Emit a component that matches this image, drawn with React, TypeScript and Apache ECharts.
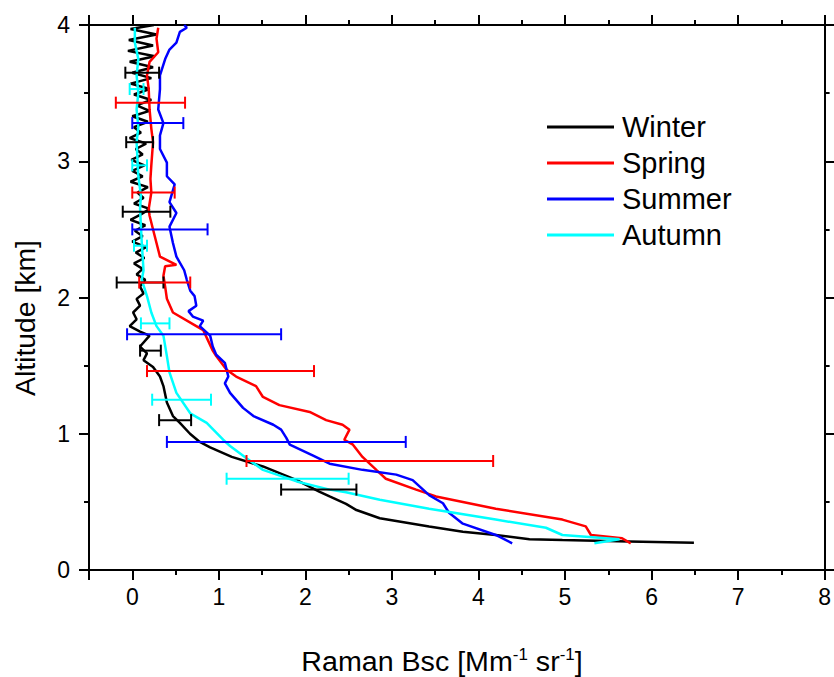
import React, { useEffect, useRef } from 'react';
import * as echarts from 'echarts';

const seasons = ['Winter', 'Spring', 'Summer', 'Autumn'];
const seasonColors = ['#000000', '#ff0000', '#0000ff', '#00ffff'];

const xTickValues = [0, 1, 2, 3, 4, 5, 6, 7, 8];
const yTickValues = [0, 1, 2, 3, 4];

// [backscatter, altitude]
const winterProfile = [
  [6.49, 0.2], [5.74, 0.21], [4.97, 0.22], [4.59, 0.226], [4.2, 0.257], [3.82, 0.28], [3.43, 0.32],
  [2.86, 0.38], [2.59, 0.44], [2.47, 0.485], [2.28, 0.54], [2.16, 0.576], [1.9, 0.66], [1.51, 0.76],
  [1.15, 0.83], [0.9, 0.9], [0.78, 0.94], [0.667, 1.0], [0.55, 1.08], [0.47, 1.13], [0.4, 1.23],
  [0.36, 1.35], [0.32, 1.42], [0.24, 1.49], [0.13, 1.54], [0.17, 1.59], [0.09, 1.64], [0.2, 1.72],
  [0.09, 1.75], [-0.03, 1.79], [0.05, 1.84], [0.01, 1.89], [0.09, 1.94], [0.05, 1.99], [0.13, 2.03],
  [0.09, 2.08], [0.15, 2.13], [0.05, 2.17], [0.12, 2.21], [0.02, 2.25], [0.14, 2.29], [0.04, 2.33],
  [0.16, 2.37], [0.0, 2.41], [0.12, 2.45], [0.03, 2.49], [0.15, 2.53], [-0.02, 2.57], [0.1, 2.61],
  [0.2, 2.65], [0.02, 2.69], [0.13, 2.73], [0.06, 2.77], [0.18, 2.81], [-0.02, 2.85], [0.12, 2.89],
  [0.0, 2.93], [0.14, 2.97], [-0.01, 3.01], [0.12, 3.05], [0.04, 3.09], [0.16, 3.13], [-0.03, 3.17],
  [0.1, 3.21], [0.02, 3.25], [0.18, 3.29], [0.0, 3.33], [0.2, 3.37], [0.05, 3.41], [0.22, 3.45],
  [0.02, 3.49], [0.2, 3.53], [-0.02, 3.57], [0.22, 3.61], [0.0, 3.65], [0.24, 3.69], [-0.03, 3.73],
  [0.26, 3.77], [-0.05, 3.81], [0.24, 3.85], [-0.04, 3.89], [0.28, 3.93], [-0.02, 3.97], [0.25, 4.0],
];

const springProfile = [
  [5.76, 0.196], [5.66, 0.233], [5.3, 0.257], [5.24, 0.32], [4.97, 0.37], [4.2, 0.45], [3.51, 0.54],
  [3.28, 0.59], [2.93, 0.67], [2.82, 0.735], [2.66, 0.83], [2.55, 0.92], [2.45, 0.956], [2.51, 1.03],
  [2.43, 1.066], [2.24, 1.1], [2.05, 1.16], [1.7, 1.21], [1.51, 1.27], [1.43, 1.35], [1.2, 1.42],
  [1.09, 1.47], [0.97, 1.57], [0.93, 1.61], [0.82, 1.76], [0.74, 1.79], [0.47, 1.89], [0.4, 1.99],
  [0.38, 2.08], [0.36, 2.16], [0.38, 2.23], [0.51, 2.24], [0.32, 2.3], [0.26, 2.45], [0.2, 2.6],
  [0.19, 2.65], [0.22, 2.77], [0.21, 2.87], [0.22, 2.97], [0.24, 3.14], [0.22, 3.24], [0.2, 3.38],
  [0.19, 3.53], [0.17, 3.63], [0.2, 3.73], [0.3, 3.8], [0.28, 3.9], [0.3, 3.98],
];

const summerProfile = [
  [4.39, 0.196], [4.2, 0.257], [3.82, 0.34], [3.66, 0.42], [3.59, 0.49], [3.43, 0.55], [3.24, 0.66],
  [3.05, 0.7], [2.66, 0.735], [2.28, 0.78], [2.09, 0.84], [1.82, 0.92], [1.78, 0.97], [1.72, 1.03],
  [1.63, 1.066], [1.4, 1.13], [1.28, 1.19], [1.13, 1.3], [1.07, 1.37], [1.11, 1.42], [1.07, 1.52],
  [0.97, 1.58], [0.93, 1.64], [0.9, 1.72], [0.78, 1.79], [0.82, 1.83], [0.7, 1.86], [0.65, 1.9],
  [0.74, 1.94], [0.72, 2.01], [0.67, 2.05], [0.63, 2.13], [0.6, 2.2], [0.51, 2.3], [0.47, 2.4],
  [0.43, 2.52], [0.51, 2.62], [0.43, 2.7], [0.49, 2.83], [0.4, 2.89], [0.4, 2.99], [0.32, 3.09],
  [0.32, 3.19], [0.36, 3.28], [0.3, 3.38], [0.32, 3.53], [0.32, 3.63], [0.38, 3.75], [0.43, 3.82],
  [0.51, 3.87], [0.55, 3.95], [0.63, 3.98], [0.6, 4.0],
];

const autumnProfile = [
  [5.34, 0.196], [5.63, 0.226], [4.97, 0.257], [4.78, 0.31], [4.2, 0.37], [3.43, 0.45], [2.86, 0.515],
  [2.47, 0.57], [2.28, 0.59], [1.9, 0.65], [1.51, 0.735], [1.32, 0.82], [1.13, 0.91], [1.05, 0.956],
  [0.86, 1.08], [0.67, 1.15], [0.51, 1.3], [0.43, 1.45], [0.4, 1.57], [0.36, 1.72], [0.28, 1.79],
  [0.22, 1.89], [0.17, 2.01], [0.11, 2.13], [0.13, 2.2], [0.11, 2.4], [0.09, 2.65], [0.1, 2.75],
  [0.07, 2.89], [0.05, 3.14], [0.07, 3.25], [0.05, 3.38], [0.07, 3.5], [0.05, 3.63], [0.07, 3.75],
  [0.03, 3.87], [0.03, 3.98],
];

// [low, high, altitude]
const winterErrors = [
  [-0.08, 0.31, 3.65], [-0.07, 0.24, 3.14], [-0.11, 0.44, 2.63], [-0.18, 0.36, 2.11],
  [0.09, 0.33, 1.61], [0.31, 0.68, 1.1], [1.72, 2.59, 0.59],
];
const springErrors = [
  [-0.19, 0.61, 3.43], [0.0, 0.49, 2.77], [0.08, 0.67, 2.11], [0.17, 2.1, 1.46], [1.32, 4.17, 0.8],
];
const summerErrors = [
  [0.0, 0.59, 3.28], [0.0, 0.87, 2.5], [-0.06, 1.72, 1.73], [0.4, 3.16, 0.94],
];
const autumnErrors = [
  [-0.03, 0.13, 3.53], [0.0, 0.17, 2.97], [0.02, 0.17, 2.38], [0.1, 0.43, 1.81],
  [0.23, 0.91, 1.25], [1.09, 2.5, 0.67],
];

const profiles = [winterProfile, springProfile, summerProfile, autumnProfile];
const errors = [winterErrors, springErrors, summerErrors, autumnErrors];

const SANS = "'Liberation Sans', Arial, sans-serif";

export default function App() {
  const ref = useRef<HTMLDivElement>(null);

  useEffect(() => {
    const chart = echarts.init(ref.current!, null, { renderer: 'svg' });

    const axisLineStyle = { show: true, onZero: false, lineStyle: { color: '#000', width: 2 } };
    const tickStyle = { show: true, inside: false, length: 10, lineStyle: { color: '#000', width: 2 } };
    const minorTickStyle = { show: true, splitNumber: 2, length: 5, lineStyle: { color: '#000', width: 2 } };

    const xFormatter = (v: number) => (xTickValues.includes(v) ? String(v) : '');
    const yFormatter = (v: number) => (yTickValues.includes(v) ? String(v) : '');

    const xBase = {
      type: 'value',
      min: -0.5,
      max: 8,
      splitNumber: 8,
      minInterval: 1,
      maxInterval: 1,
      axisLine: axisLineStyle,
      axisTick: tickStyle,
      minorTick: minorTickStyle,
      splitLine: { show: false },
    };
    const yBase = {
      type: 'value',
      min: 0,
      max: 4,
      interval: 1,
      axisLine: axisLineStyle,
      axisTick: tickStyle,
      minorTick: minorTickStyle,
      splitLine: { show: false },
    };

    const lineSeries = seasons.map((name, i) => ({
      name,
      type: 'line',
      data: profiles[i],
      showSymbol: false,
      symbol: 'none',
      xAxisIndex: 0,
      yAxisIndex: 0,
      lineStyle: { color: seasonColors[i], width: 2.5 },
      itemStyle: { color: seasonColors[i] },
      z: 2,
    }));

    const errorSeries = seasons.map((name, i) => ({
      name: name + ' error',
      type: 'custom',
      xAxisIndex: 0,
      yAxisIndex: 0,
      data: errors[i],
      encode: { x: [0, 1], y: 2 },
      z: 3,
      renderItem: (_params: any, api: any) => {
        const lo = api.coord([api.value(0), api.value(2)]);
        const hi = api.coord([api.value(1), api.value(2)]);
        const cap = 6;
        const st = { stroke: seasonColors[i], lineWidth: 2 };
        return {
          type: 'group',
          children: [
            { type: 'line', shape: { x1: lo[0], y1: lo[1], x2: hi[0], y2: hi[1] }, style: st },
            { type: 'line', shape: { x1: lo[0], y1: lo[1] - cap, x2: lo[0], y2: lo[1] + cap }, style: st },
            { type: 'line', shape: { x1: hi[0], y1: hi[1] - cap, x2: hi[0], y2: hi[1] + cap }, style: st },
          ],
        };
      },
    }));

    chart.setOption({
      animation: false,
      backgroundColor: '#ffffff',
      grid: { left: 89, right: 8, top: 25, bottom: 107, containLabel: false },
      legend: {
        show: true,
        orient: 'vertical',
        left: 547,
        top: 109,
        padding: 0,
        itemWidth: 67,
        itemHeight: 3,
        itemGap: 0,
        icon: 'rect',
        data: seasons.map((name, i) => ({ name, itemStyle: { color: seasonColors[i] } })),
        textStyle: { color: '#000', fontSize: 29, fontFamily: SANS, lineHeight: 36, padding: [0, 0, 0, 3] },
        selectedMode: false,
      },
      xAxis: [
        {
          ...xBase,
          position: 'bottom',
          axisLabel: { show: true, formatter: xFormatter, fontSize: 23, fontFamily: SANS, color: '#000', margin: 15 },
        },
        {
          ...xBase,
          position: 'top',
          axisLabel: { show: false },
        },
      ],
      yAxis: [
        {
          ...yBase,
          position: 'left',
          axisLabel: { show: true, formatter: yFormatter, fontSize: 23, fontFamily: SANS, color: '#000', margin: 19 },
        },
        {
          ...yBase,
          position: 'right',
          axisLabel: { show: false },
        },
      ],
      graphic: [
        {
          type: 'text',
          x: 26,
          y: 318,
          rotation: Math.PI / 2,
          scaleX: 1.05,
          style: {
            text: 'Altitude [km]',
            fontSize: 27,
            fontFamily: SANS,
            fill: '#000',
            align: 'center',
            verticalAlign: 'middle',
          },
        },
        {
          type: 'text',
          x: 442,
          y: 662,
          scaleX: 1.06,
          style: {
            text: 'Raman Bsc [Mm{sup|-1} sr{sup|-1}]',
            fontSize: 27,
            fontFamily: SANS,
            fill: '#000',
            align: 'center',
            verticalAlign: 'middle',
            lineHeight: 32,
            rich: {
              sup: { fontSize: 16, fontFamily: SANS, fill: '#000', verticalAlign: 'top', lineHeight: 32 },
            },
          },
        },
      ],
      series: [...lineSeries, ...errorSeries],
    });

    return () => chart.dispose();
  }, []);

  return (
    <div
      ref={ref}
      style={{ position: 'fixed', left: 0, top: 0, width: 834, height: 677, background: '#fff' }}
    />
  );
}
